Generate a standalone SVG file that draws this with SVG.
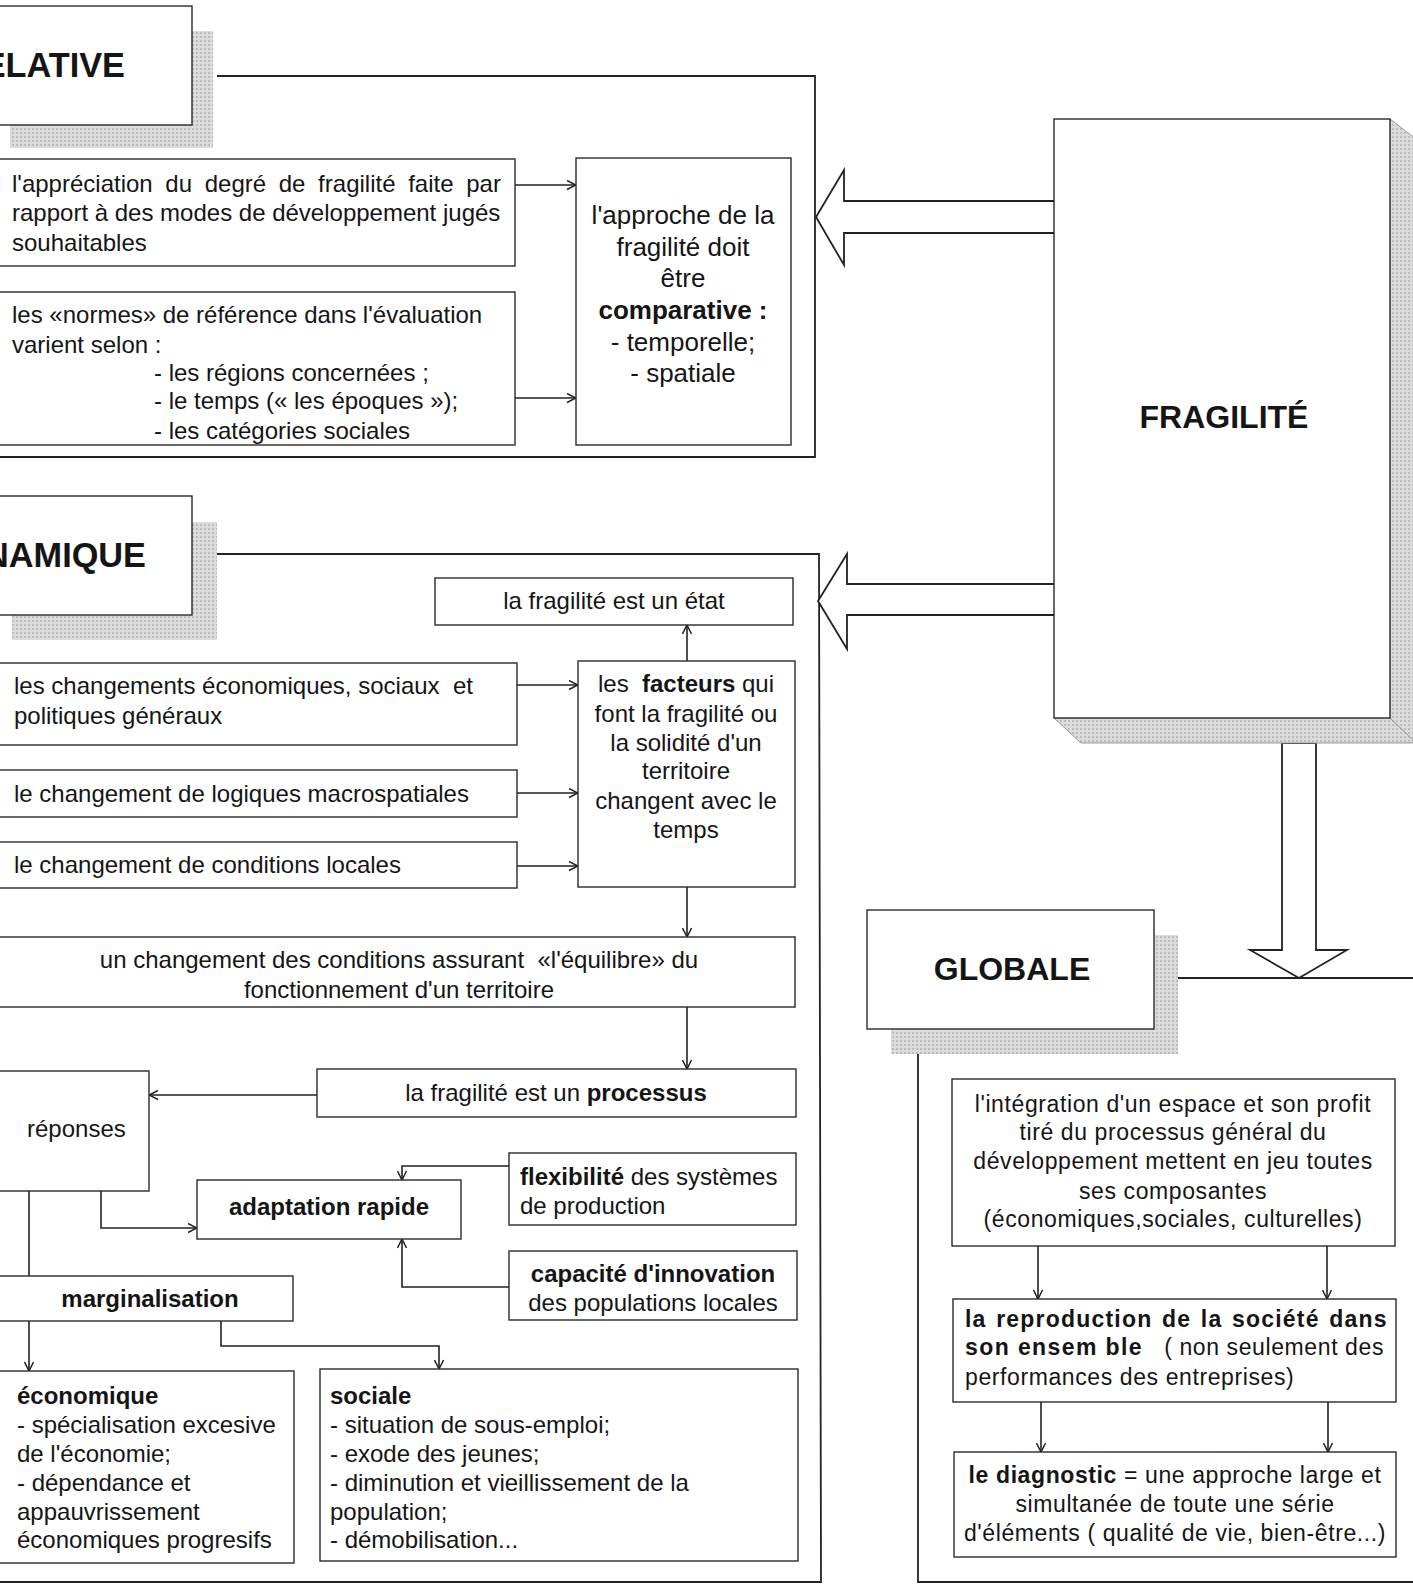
<svg xmlns="http://www.w3.org/2000/svg" width="1413" height="1585" viewBox="0 0 1413 1585">
<defs>
<style>
.box{fill:#fff;stroke:#2a2a2a;stroke-width:1.4}
.shadow{fill:url(#dots)}
.t{font-family:'Liberation Sans',Arial,sans-serif;font-size:24px;fill:#151515}
.c{text-anchor:middle}
.b{font-weight:bold}
.big26{font-size:26px}
.r{font-size:23px;letter-spacing:0.6px}
.title{font-family:'Liberation Sans',Arial,sans-serif;font-size:32px;font-weight:bold;fill:#151515}
.side{font-size:34.3px}
.conn{stroke:#222;stroke-width:1.6;fill:none}
.big{fill:#fff;stroke:#222;stroke-width:1.8}
.frame{stroke:#222;stroke-width:1.8;fill:none}
</style>
<pattern id="dots" width="4" height="4" patternUnits="userSpaceOnUse">
<rect width="4" height="4" fill="#dcdcdc"/>
<rect x="0" y="0" width="2" height="2" fill="#bcbcbc"/>
</pattern>
<marker id="ah" viewBox="0 0 10 10" refX="10" refY="5" markerWidth="10" markerHeight="11" markerUnits="userSpaceOnUse" orient="auto">
<path d="M1,0.5 L10,5 L1,9.5" fill="none" stroke="#222" stroke-width="1.5"/>
</marker>
</defs>

<g id="connectors">
<polyline class="frame" points="217,76 815,76 815,457 -5,457"/>
<polyline class="frame" points="217,554 819,554 821,1582 -5,1582"/>
<polyline class="frame" points="1178,978 1420,978"/>
<polyline class="frame" points="918,1054 918,1582 1420,1582"/>
<line class="conn" x1="515" y1="185" x2="576" y2="185" marker-end="url(#ah)"/>
<line class="conn" x1="515" y1="398" x2="576" y2="398" marker-end="url(#ah)"/>
<line class="conn" x1="687" y1="661" x2="687" y2="625" marker-end="url(#ah)"/>
<line class="conn" x1="517" y1="685" x2="578" y2="685" marker-end="url(#ah)"/>
<line class="conn" x1="517" y1="793" x2="578" y2="793" marker-end="url(#ah)"/>
<line class="conn" x1="517" y1="866" x2="578" y2="866" marker-end="url(#ah)"/>
<line class="conn" x1="687" y1="887" x2="687" y2="937" marker-end="url(#ah)"/>
<line class="conn" x1="687" y1="1007" x2="687" y2="1069" marker-end="url(#ah)"/>
<line class="conn" x1="317" y1="1095" x2="149" y2="1095" marker-end="url(#ah)"/>
<path class="conn" d="M101,1191 V1228 H197" marker-end="url(#ah)"/>
<path class="conn" d="M509,1166 H402 V1180" marker-end="url(#ah)"/>
<path class="conn" d="M509,1287 H402 V1239" marker-end="url(#ah)"/>
<line class="conn" x1="29" y1="1191" x2="29" y2="1276"/>
<line class="conn" x1="29" y1="1321" x2="29" y2="1371" marker-end="url(#ah)"/>
<path class="conn" d="M221,1321 V1346 H439 V1369" marker-end="url(#ah)"/>
<line class="conn" x1="1038" y1="1246" x2="1038" y2="1299" marker-end="url(#ah)"/>
<line class="conn" x1="1327" y1="1246" x2="1327" y2="1299" marker-end="url(#ah)"/>
<line class="conn" x1="1041" y1="1402" x2="1041" y2="1452" marker-end="url(#ah)"/>
<line class="conn" x1="1328" y1="1402" x2="1328" y2="1452" marker-end="url(#ah)"/>
<polygon class="big" points="1056,201 844,201 844,170 816,217 844,265 844,233 1056,233"/>
<polygon class="big" points="1058,584 847,584 847,554 818,601 847,649 847,615 1058,615"/>
<polygon class="big" points="1282,743 1282,950 1250,950 1299,978 1347,950 1316,950 1316,743"/>
</g>

<g id="relative">
<rect class="shadow" x="10" y="31" width="203" height="117"/>
<rect class="box" x="-10" y="6" width="202" height="119"/>
<text class="title side" x="125" y="77" text-anchor="end">RELATIVE</text>
</g>

<g id="dynamique">
<rect class="shadow" x="12" y="522" width="205" height="118"/>
<rect class="box" x="-10" y="496" width="202" height="119"/>
<text class="title side" x="146" y="567" text-anchor="end">DYNAMIQUE</text>
</g>

<g id="globale">
<rect class="shadow" x="891" y="935" width="287" height="119"/>
<rect class="box" x="867" y="910" width="287" height="119"/>
<text class="title" x="1012" y="980" text-anchor="middle">GLOBALE</text>
</g>

<g id="fragilite">
<polygon points="1390,119 1416,139 1416,743 1390,718" fill="url(#dots)" stroke="#9a9a9a" stroke-width="1"/>
<polygon points="1054,718 1390,718 1416,743 1081,743" fill="url(#dots)" stroke="#9a9a9a" stroke-width="1"/>
<rect class="box" x="1054" y="119" width="336" height="599"/>
<text class="title" x="1224" y="428" text-anchor="middle">FRAGILITÉ</text>
</g>

<g id="appreciation">
<rect class="box" x="-5" y="159" width="520" height="107"/>
<text class="t" x="12" y="192" word-spacing="6">l'appréciation du degré de fragilité faite par</text>
<text class="t" x="12" y="221">rapport à des modes de développement jugés</text>
<text class="t" x="12" y="251">souhaitables</text>
</g>

<g id="normes">
<rect class="box" x="-5" y="292" width="520" height="153"/>
<text class="t" x="12" y="323">les «normes» de référence dans l'évaluation</text>
<text class="t" x="12" y="353">varient selon :</text>
<text class="t" x="154" y="381">- les régions concernées ;</text>
<text class="t" x="154" y="409">- le temps (« les époques »);</text>
<text class="t" x="154" y="439">- les catégories sociales</text>
</g>

<g id="approche">
<rect class="box" x="576" y="158" width="215" height="287"/>
<text class="t c big26" x="683" y="224">l'approche de la</text>
<text class="t c big26" x="683" y="256">fragilité doit</text>
<text class="t c big26" x="683" y="287">être</text>
<text class="t c b big26" x="683" y="319">comparative :</text>
<text class="t c big26" x="683" y="351">- temporelle;</text>
<text class="t c big26" x="683" y="382">- spatiale</text>
</g>

<g id="etat">
<rect class="box" x="435" y="578" width="358" height="47"/>
<text class="t c" x="614" y="609">la fragilité est un état</text>
</g>

<g id="facteurs">
<rect class="box" x="578" y="661" width="217" height="226"/>
<text class="t c" x="686" y="692" xml:space="preserve">les  <tspan class="b">facteurs</tspan> qui</text>
<text class="t c" x="686" y="722">font la fragilité ou</text>
<text class="t c" x="686" y="751">la solidité d'un</text>
<text class="t c" x="686" y="779">territoire</text>
<text class="t c" x="686" y="809">changent avec le</text>
<text class="t c" x="686" y="838">temps</text>
</g>

<g id="changements">
<rect class="box" x="-5" y="663" width="522" height="82"/>
<text class="t" x="14" y="694" xml:space="preserve">les changements économiques, sociaux  et</text>
<text class="t" x="14" y="724">politiques généraux</text>
</g>

<g id="macrospatiales">
<rect class="box" x="-5" y="770" width="522" height="47"/>
<text class="t" x="14" y="802">le changement de logiques macrospatiales</text>
</g>

<g id="locales">
<rect class="box" x="-5" y="842" width="522" height="46"/>
<text class="t" x="14" y="873">le changement de conditions locales</text>
</g>

<g id="equilibre">
<rect class="box" x="-5" y="937" width="800" height="70"/>
<text class="t c" x="399" y="968" xml:space="preserve">un changement des conditions assurant  «l'équilibre» du</text>
<text class="t c" x="399" y="998">fonctionnement d'un territoire</text>
</g>

<g id="processus">
<rect class="box" x="317" y="1069" width="479" height="48"/>
<text class="t c" x="556" y="1101">la fragilité est un <tspan class="b">processus</tspan></text>
</g>

<g id="reponses">
<rect class="box" x="-5" y="1071" width="154" height="120"/>
<text class="t" x="27" y="1137">réponses</text>
</g>

<g id="adaptation">
<rect class="box" x="197" y="1180" width="264" height="59"/>
<text class="t c b" x="329" y="1215">adaptation rapide</text>
</g>

<g id="flexibilite">
<rect class="box" x="509" y="1153" width="287" height="72"/>
<text class="t" x="520" y="1185"><tspan class="b">flexibilité</tspan> des systèmes</text>
<text class="t" x="520" y="1214">de production</text>
</g>

<g id="capacite">
<rect class="box" x="509" y="1251" width="288" height="69"/>
<text class="t c b" x="653" y="1282">capacité d'innovation</text>
<text class="t c" x="653" y="1311">des populations locales</text>
</g>

<g id="marginalisation">
<rect class="box" x="-5" y="1276" width="298" height="45"/>
<text class="t c b" x="150" y="1307">marginalisation</text>
</g>

<g id="economique">
<rect class="box" x="-5" y="1371" width="299" height="192"/>
<text class="t b" x="17" y="1404">économique</text>
<text class="t" x="17" y="1433">- spécialisation excesive</text>
<text class="t" x="17" y="1462">de l'économie;</text>
<text class="t" x="17" y="1491">- dépendance et</text>
<text class="t" x="17" y="1520">appauvrissement</text>
<text class="t" x="17" y="1548">économiques progresifs</text>
</g>

<g id="sociale">
<rect class="box" x="320" y="1369" width="478" height="192"/>
<text class="t b" x="330" y="1404">sociale</text>
<text class="t" x="330" y="1433">- situation de sous-emploi;</text>
<text class="t" x="330" y="1462">- exode des jeunes;</text>
<text class="t" x="330" y="1491">- diminution et vieillissement de la</text>
<text class="t" x="330" y="1520">population;</text>
<text class="t" x="330" y="1548">- démobilisation...</text>
</g>

<g id="integration">
<rect class="box" x="952" y="1079" width="443" height="167"/>
<text class="t r c" x="1173" y="1112">l'intégration d'un espace et son profit</text>
<text class="t r c" x="1173" y="1140">tiré du processus général du</text>
<text class="t r c" x="1173" y="1169">développement mettent en jeu toutes</text>
<text class="t r c" x="1173" y="1199">ses composantes</text>
<text class="t r c" x="1173" y="1227">(économiques,sociales, culturelles)</text>
</g>

<g id="reproduction">
<rect class="box" x="953" y="1299" width="443" height="103"/>
<text class="t r b" x="965" y="1327" style="letter-spacing:1.2px;word-spacing:2px">la reproduction de la société dans</text>
<text class="t r b" x="965" y="1355" style="letter-spacing:1.4px">son ensem ble</text>
<text class="t r" x="1384" y="1355" text-anchor="end">( non seulement des</text>
<text class="t r" x="965" y="1385">performances des entreprises)</text>
</g>

<g id="diagnostic">
<rect class="box" x="954" y="1452" width="442" height="105"/>
<text class="t r c" x="1175" y="1483"><tspan class="b">le diagnostic</tspan> = une approche large et</text>
<text class="t r c" x="1175" y="1512">simultanée de toute une série</text>
<text class="t r c" x="1175" y="1541">d'éléments ( qualité de vie, bien-être...)</text>
</g>
</svg>
